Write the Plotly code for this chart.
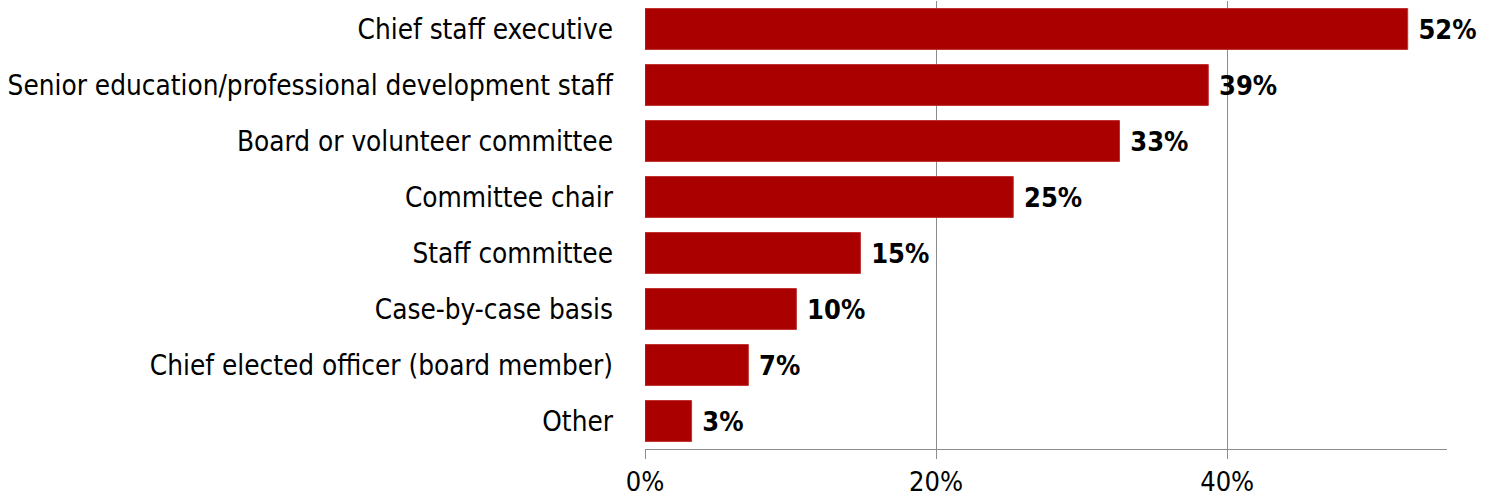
import plotly.graph_objects as go

categories = [
    "Chief staff executive",
    "Senior education/professional development staff",
    "Board or volunteer committee",
    "Committee chair",
    "Staff committee",
    "Case-by-case basis",
    "Chief elected officer (board member)",
    "Other",
]
values = [0.524, 0.387, 0.326, 0.253, 0.148, 0.104, 0.071, 0.032]
tick_vals = [0, 0.2, 0.4]
tick_text = ["0%", "20%", "40%"]

FONT = "DejaVu Sans Condensed, Liberation Sans Narrow, sans-serif"

fig = go.Figure(
    go.Bar(
        x=values,
        y=categories,
        orientation="h",
        marker=dict(color="#AA0000", line=dict(color="#C03030", width=1)),
        width=0.73,
        texttemplate="\u00a0<b>%{x:.0%}</b>",
        textposition="outside",
        cliponaxis=False,
        textfont=dict(family=FONT, size=27, color="#000000"),
    )
)

fig.update_layout(
    width=1495,
    height=499,
    margin=dict(l=645, r=48, t=1, b=50),
    plot_bgcolor="white",
    paper_bgcolor="white",
    showlegend=False,
    font=dict(family=FONT, size=26, color="#000000"),
)
fig.update_yaxes(
    autorange="reversed",
    automargin=False,
    showgrid=False,
    showline=False,
    ticks="",
    ticklabelstandoff=31,
    tickfont=dict(family=FONT, size=27.7, color="#000000"),
)
fig.update_xaxes(
    range=[0, 0.551],
    automargin=False,
    tickvals=tick_vals,
    ticktext=tick_text,
    showgrid=True,
    gridcolor="#8C8C8C",
    gridwidth=1,
    zeroline=False,
    showline=True,
    linecolor="#8C8C8C",
    linewidth=1,
    ticks="outside",
    ticklen=9,
    tickcolor="#8C8C8C",
    tickfont=dict(family=FONT, size=27, color="#000000"),
)

fig.write_html(
    "out.html",
    config={"displayModeBar": False},
    post_script="document.body.style.margin='0';document.body.style.overflow='hidden';",
)
